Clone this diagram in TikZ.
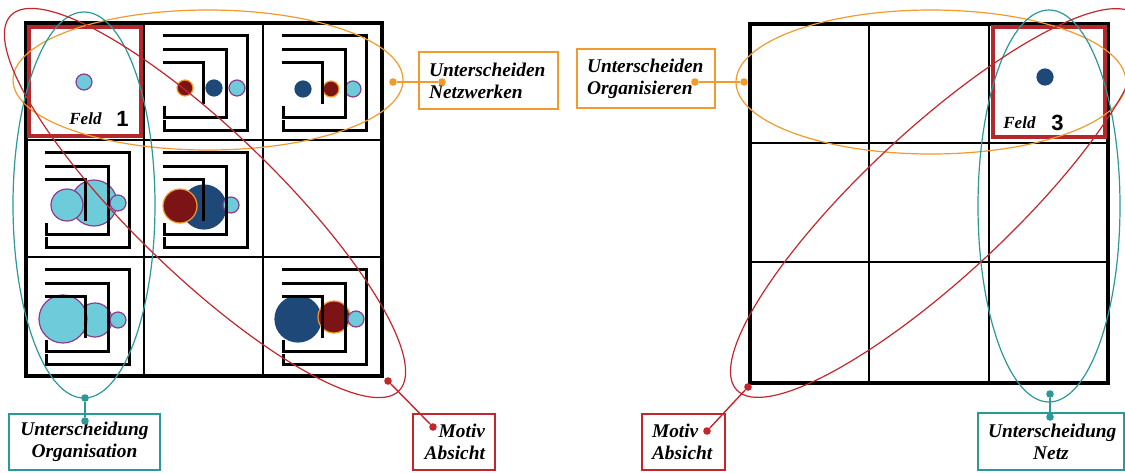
\documentclass[tikz,border=0pt]{standalone}
\usepackage{fontspec}
\setmainfont{Liberation Serif}
\newfontfamily\ziffernfont{Liberation Sans}
\usetikzlibrary{positioning}

\definecolor{orangelinie}{HTML}{F39A2C}
\definecolor{tuerkis}{HTML}{2A9A98}
\definecolor{rotlinie}{HTML}{C4262E}
\definecolor{feldrot}{HTML}{B3272D}
\definecolor{hellblau}{HTML}{6ECBD9}
\definecolor{lila}{HTML}{8E3B91}
\definecolor{dunkelblau}{HTML}{1D4878}
\definecolor{dunkelrot}{HTML}{7C1416}

\newcommand{\spirale}{%
  \draw[spur] (19,12) -- (103,12) -- (103,107) -- (20,107) -- (20,97);
  \draw[spur] (19,26) -- (82,26) -- (82,94) -- (20,94) -- (20,83);
  \draw[spur] (19,39) -- (59,39) -- (59,81);
}

\begin{document}
\begin{tikzpicture}[x=0.5pt, y=-0.5pt,
  gitter/.style={line width=1.1pt},
  rahmen/.style={line width=1.6pt},
  spur/.style={line width=1.5pt},
  feldbox/.style={draw=feldrot, line width=2pt},
  kreis/.style={line width=0.6pt},
  cyanpunkt/.style={kreis, fill=hellblau, draw=lila},
  blaupunkt/.style={kreis, fill=dunkelblau, draw=dunkelblau},
  rotpunkt/.style={kreis, fill=dunkelrot, draw=orangelinie},
  oval/.style={line width=0.6pt},
  verbinder/.style={line width=0.7pt},
  punkt/.style={circle, inner sep=0pt, minimum size=3.8pt},
  kasten/.style={draw, line width=0.7pt, inner xsep=5pt, inner ysep=2pt,
    font=\fontsize{9.7}{11}\selectfont\bfseries\itshape},
  feldtext/.style={inner sep=0pt, font=\fontsize{8.5}{10}\selectfont\bfseries\itshape},
  ziffer/.style={inner sep=0pt, font=\fontsize{11}{12}\selectfont\ziffernfont\bfseries},
]
  \useasboundingbox (0,0) rectangle (1125,472);

  % linkes Feld: Kreise
  \draw[cyanpunkt] (84,82) circle [radius=8];
  \draw[rotpunkt] (185,88) circle [radius=8];
  \draw[blaupunkt] (214,88) circle [radius=8];
  \draw[cyanpunkt] (237,88) circle [radius=8];
  \draw[blaupunkt] (303,89) circle [radius=8];
  \draw[rotpunkt] (331,89) circle [radius=8];
  \draw[cyanpunkt] (353,89) circle [radius=8];
  \draw[cyanpunkt] (94,203) circle [radius=23];
  \draw[cyanpunkt] (67,205) circle [radius=16];
  \draw[cyanpunkt] (118,203) circle [radius=8];
  \draw[blaupunkt] (204,207) circle [radius=22];
  \draw[rotpunkt] (180,206) circle [radius=17];
  \draw[cyanpunkt] (231,205) circle [radius=8];
  \draw[cyanpunkt] (95,320) circle [radius=17];
  \draw[cyanpunkt] (63,319) circle [radius=24];
  \draw[cyanpunkt] (118,320) circle [radius=8];
  \draw[blaupunkt] (298,319) circle [radius=23];
  \draw[rotpunkt] (334,317) circle [radius=16];
  \draw[cyanpunkt] (356,319) circle [radius=8];

  \foreach \cx/\cy in {144/23, 263/23, 26/140, 144/140, 26/257, 263/257}{
    \begin{scope}[shift={(\cx,\cy)}]
      \spirale
    \end{scope}
  }

  % Gitter links
  \draw[gitter] (144,23) -- (144,376) (263,23) -- (263,376)
    (26,140) -- (382,140) (26,257) -- (382,257);
  \draw[rahmen] (26,23) rectangle (382,376);
  \draw[feldbox] (29,27) rectangle (141,136);
  \node[feldtext, anchor=base west] (feld1) at (69,124) {Feld};
  \node[ziffer, anchor=base west] (nummer1) at (116,126) {1};

  % Gitter rechts
  \draw[gitter] (869,24) -- (869,383) (989,24) -- (989,383)
    (750,143) -- (1108,143) (750,262) -- (1108,262);
  \draw[rahmen] (750,24) rectangle (1108,383);
  \draw[feldbox] (993,27) rectangle (1105,137);
  \draw[blaupunkt] (1045,77) circle [radius=8];
  \node[feldtext, anchor=base west] (feld3) at (1003,128) {Feld};
  \node[ziffer, anchor=base west] (nummer3) at (1051,130) {3};

  % Ovale
  \draw[oval, orangelinie] (208,80) ellipse [x radius=195, y radius=70];
  \draw[oval, orangelinie] (931,82) ellipse [x radius=195, y radius=72];
  \draw[oval, tuerkis] (84,205) ellipse [x radius=71, y radius=193];
  \draw[oval, tuerkis] (1049,206) ellipse [x radius=71, y radius=196];
  \draw[oval, rotlinie, rotate around={-44:(205,203)}] (205,203) ellipse [x radius=270, y radius=72];
  \draw[oval, rotlinie, rotate around={43:(937,203)}] (937,203) ellipse [x radius=274, y radius=73];

  % Beschriftungen
  \node[kasten, draw=orangelinie, minimum width=69.5pt, minimum height=28.5pt,
    text width=59.5pt, align=left] (netzwerken) at (488.5,80.5) {Unterscheiden\\Netzwerken};
  \node[kasten, draw=orangelinie, minimum width=69pt, minimum height=29.5pt,
    text width=59pt, align=left] (organisieren) at (646,78.5) {Unterscheiden\\Organisieren};
  \node[kasten, draw=tuerkis, minimum width=75.5pt, minimum height=28pt,
    text width=65.5pt, align=center] (organisation) at (84.5,442) {Unterscheidung\\Organisation};
  \node[kasten, draw=rotlinie, minimum width=41pt, minimum height=28pt,
    text width=31pt, align=right] (motiv1) at (454,442) {Motiv\\Absicht};
  \node[kasten, draw=rotlinie, minimum width=41.5pt, minimum height=28pt,
    text width=31.5pt, align=left] (motiv2) at (683.5,442) {Motiv\\Absicht};
  \node[kasten, draw=tuerkis, minimum width=73pt, minimum height=28.5pt,
    text width=63pt, align=center] (netz) at (1051,441.5) {Unterscheidung\\Netz};

  % Verbinder
  \node[punkt, fill=orangelinie] (o1a) at (393,82) {};
  \node[punkt, fill=orangelinie] (o1b) at (442,82) {};
  \node[punkt, fill=orangelinie] (o2a) at (695,82) {};
  \node[punkt, fill=orangelinie] (o2b) at (744,82) {};
  \node[punkt, fill=tuerkis] (t1a) at (85,398) {};
  \node[punkt, fill=tuerkis] (t1b) at (85,421) {};
  \node[punkt, fill=tuerkis] (t2a) at (1050,394) {};
  \node[punkt, fill=tuerkis] (t2b) at (1050,417) {};
  \node[punkt, fill=rotlinie] (r1a) at (388,381) {};
  \node[punkt, fill=rotlinie] (r1b) at (433,427) {};
  \node[punkt, fill=rotlinie] (r2a) at (748,387) {};
  \node[punkt, fill=rotlinie] (r2b) at (707,431) {};

  \draw[verbinder, orangelinie] (o1a) -- (o1b);
  \draw[verbinder, orangelinie] (o2a) -- (o2b);
  \draw[verbinder, tuerkis] (t1a) -- (t1b);
  \draw[verbinder, tuerkis] (t2a) -- (t2b);
  \draw[verbinder, rotlinie] (r1a) -- (r1b);
  \draw[verbinder, rotlinie] (r2a) -- (r2b);
\end{tikzpicture}
\end{document}
